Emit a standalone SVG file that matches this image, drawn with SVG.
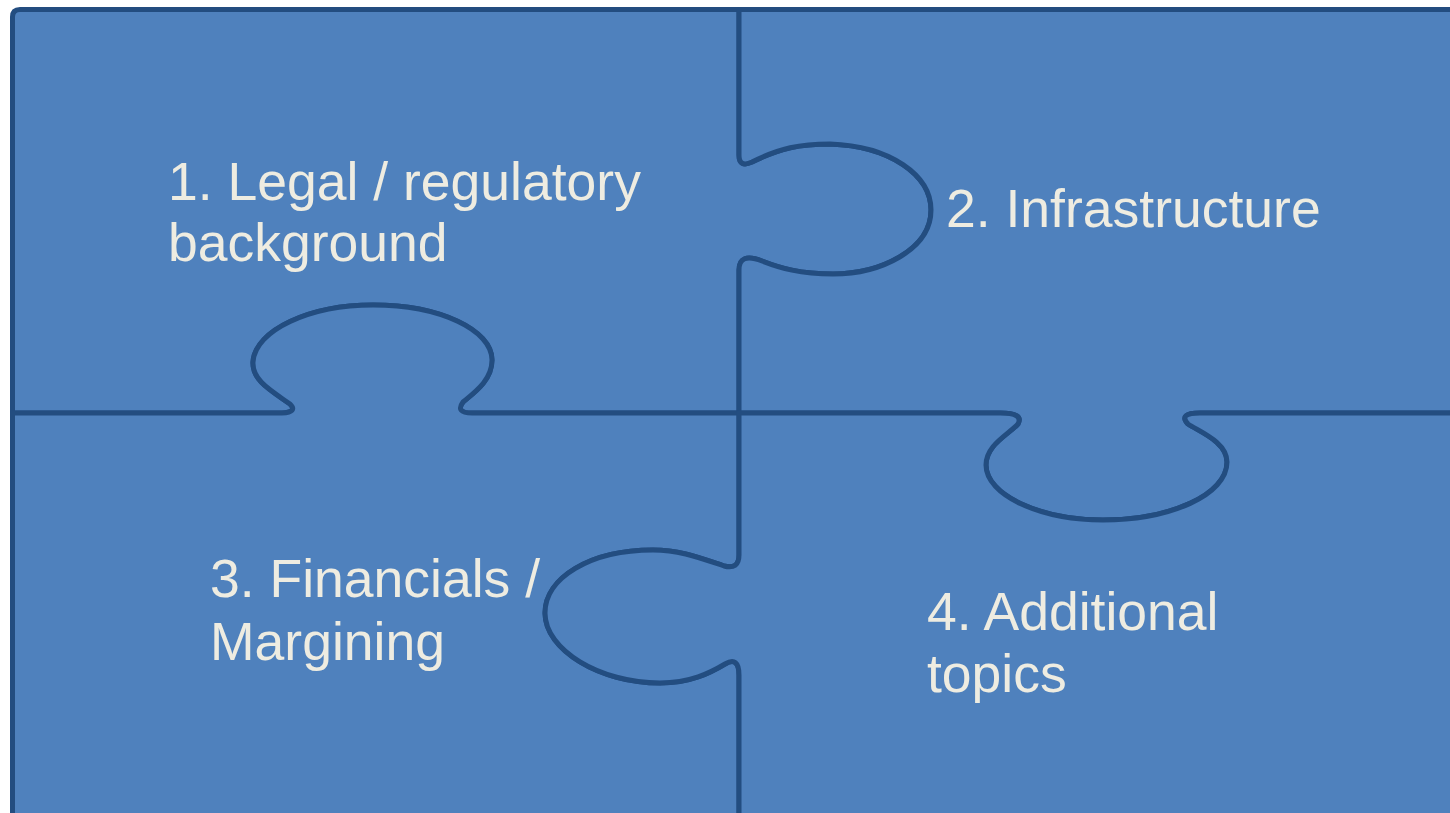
<svg xmlns="http://www.w3.org/2000/svg" width="1450" height="813" viewBox="0 0 1450 813">
  <style>
    .piece { fill: #4F81BD; stroke: #234D80; stroke-width: 5; stroke-linejoin: round; stroke-linecap: round; }
    .label { font-family: "Liberation Sans", Arial, sans-serif; font-size: 53.5px; fill: #EEECE1; }
  </style>
  <rect x="0" y="0" width="1450" height="813" fill="#FFFFFF"/>

  <!-- top-left piece: tab to the right, socket on the bottom -->
  <g id="piece-legal">
    <path class="piece" d="M12.5,413 V17 Q12.5,9.5 20,9.5 H739 V155 Q739,168 752,162 C780,148 800,144 830,144 C890,146 931,175 931,210 C931,250 880,274 833,274 C800,274 780,268 762,261 Q739,252 739,270 V413 H472 Q455,413 463,402 C475,392 492,380 492,360 C492,330 440,305 373,305 C310,305 255,330 253,362 C252,380 270,390 290,404 Q298,412 282,413 H12.5 Z"/>
    <text class="label" x="168" y="200">1. Legal / regulatory</text>
    <text class="label" x="168" y="261">background</text>
  </g>

  <!-- top-right piece: socket on the left, tab on the bottom -->
  <g id="piece-infrastructure">
    <path class="piece" d="M739,9.5 H1460 V413 H1200 Q1178,413 1188,424 C1200,432 1227,442 1227,462 C1227,495 1170,520 1103,520 C1040,520 986,495 986,465 C986,445 1008,435 1018,424 Q1024,413 1000,413 H739 V270 Q739,252 762,261 C780,268 800,274 833,274 C880,274 931,250 931,210 C931,175 890,146 830,144 C800,144 780,148 752,162 Q739,168 739,155 V9.5 Z"/>
    <text class="label" x="946" y="227">2. Infrastructure</text>
  </g>

  <!-- bottom-left piece: tab on the top, socket on the right -->
  <g id="piece-financials">
    <path class="piece" d="M12.5,413 H282 Q298,412 290,404 C270,390 252,380 253,362 C255,330 310,305 373,305 C440,305 492,330 492,360 C492,380 475,392 463,402 Q455,413 472,413 H739 V555 Q739,570 724,566 C700,558 680,550 653,550 C590,550 545,578 545,613 C545,650 600,683 660,683 C690,683 710,673 725,664 Q739,656 739,675 V830 H12.5 Z"/>
    <text class="label" x="210" y="597">3. Financials /</text>
    <text class="label" x="210" y="660">Margining</text>
  </g>

  <!-- bottom-right piece: socket on the top, tab on the left -->
  <g id="piece-additional">
    <path class="piece" d="M739,413 H1000 Q1024,413 1018,424 C1008,435 986,445 986,465 C986,495 1040,520 1103,520 C1170,520 1227,495 1227,462 C1227,442 1200,432 1188,424 Q1178,413 1200,413 H1460 V830 H739 V675 Q739,656 725,664 C710,673 690,683 660,683 C600,683 545,650 545,613 C545,578 590,550 653,550 C680,550 700,558 724,566 Q739,570 739,555 V413 Z"/>
    <text class="label" x="927" y="630">4. Additional</text>
    <text class="label" x="927" y="692">topics</text>
  </g>
</svg>
